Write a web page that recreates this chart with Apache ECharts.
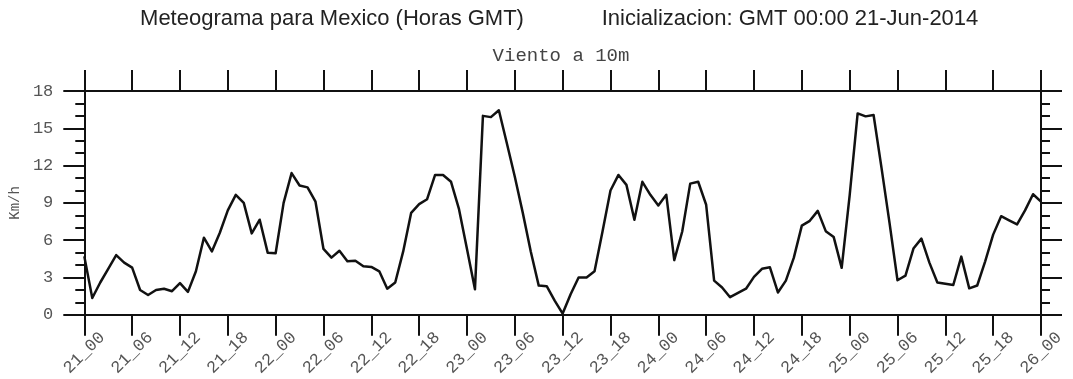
<!DOCTYPE html>
<html>
<head>
<meta charset="utf-8">
<script src="https://cdn.jsdelivr.net/npm/echarts@6/dist/echarts.min.js"></script>
<style>
  html, body { margin: 0; padding: 0; background: #fff; }
  #chart { width: 1073px; height: 379px; }
</style>
</head>
<body>
<div id="chart"></div>
<script>
// Hourly 10 m wind speed (km/h), 21_00 through 26_00
const windSpeed = [
  4.7, 1.35, 2.6, 3.7, 4.8, 4.2, 3.8, 2.0, 1.6, 2.0,
  2.1, 1.9, 2.55, 1.85, 3.5, 6.2, 5.1, 6.6, 8.4, 9.65,
  9.0, 6.55, 7.65, 5.0, 4.95, 9.0, 11.4, 10.4, 10.25, 9.1,
  5.3, 4.6, 5.15, 4.3, 4.35, 3.9, 3.85, 3.5, 2.1, 2.6,
  5.1, 8.2, 8.9, 9.3, 11.25, 11.25, 10.7, 8.5, 5.3, 2.05,
  16.0, 15.9, 16.45, 13.8, 11.1, 8.2, 5.1, 2.35, 2.3, 1.15,
  0.1, 1.65, 3.0, 3.0, 3.5, 6.7, 10.0, 11.25, 10.45, 7.65,
  10.7, 9.65, 8.8, 9.65, 4.4, 6.7, 10.55, 10.7, 8.85, 2.75,
  2.2, 1.42, 1.77, 2.1, 3.05, 3.7, 3.82, 1.8, 2.75, 4.6,
  7.17, 7.56, 8.36, 6.73, 6.25, 3.78, 9.6, 16.2, 15.96, 16.07,
  11.8, 7.4, 2.78, 3.15, 5.33, 6.13, 4.2, 2.6, 2.5, 2.4,
  4.68, 2.13, 2.36, 4.3, 6.45, 7.93, 7.6, 7.27, 8.4, 9.7,
  9.1
];

// Labels for every 6-hour tick (day_hour)
const tickLabels = [
  '21_00', '21_06', '21_12', '21_18',
  '22_00', '22_06', '22_12', '22_18',
  '23_00', '23_06', '23_12', '23_18',
  '24_00', '24_06', '24_12', '24_18',
  '25_00', '25_06', '25_12', '25_18',
  '26_00'
];

const yTicks = [0, 3, 6, 9, 12, 15, 18];

const titleLeft = 'Meteograma para Mexico (Horas GMT)';
const titleRight = 'Inicializacion: GMT 00:00 21-Jun-2014';
const subTitle = 'Viento a 10m';
const yName = 'Km/h';

const HOURS_PER_TICK = 6;
const lastHour = (tickLabels.length - 1) * HOURS_PER_TICK;

const monoFont = '"Liberation Mono", "DejaVu Sans Mono", monospace';
const sansFont = '"Liberation Sans", Arial, sans-serif';
const frame = { color: '#111', width: 2 };
const labelColor = '#555';

const chart = echarts.init(document.getElementById('chart'), null, { renderer: 'canvas' });

const xBase = {
  type: 'value',
  min: 0,
  max: lastHour,
  interval: HOURS_PER_TICK,
  splitLine: { show: false },
  axisLine: { show: true, onZero: false, lineStyle: frame },
  axisTick: { show: true, inside: false, length: 21, lineStyle: frame }
};

const yBase = {
  type: 'value',
  min: yTicks[0],
  max: yTicks[yTicks.length - 1],
  interval: yTicks[1] - yTicks[0],
  splitLine: { show: false },
  axisLine: { show: true, onZero: false, lineStyle: frame },
  axisTick: { show: true, inside: false, length: 21, lineStyle: frame },
  minorTick: { show: true, splitNumber: 3, length: 9, lineStyle: frame },
  minorSplitLine: { show: false }
};

chart.setOption({
  animation: false,
  backgroundColor: '#fff',
  grid: { left: 83, right: 32, top: 91, bottom: 63, containLabel: false },
  xAxis: [
    Object.assign({}, xBase, {
      position: 'bottom',
      axisLabel: {
        show: true,
        rotate: 45,
        margin: 38,
        align: 'center',
        verticalAlign: 'middle',
        color: labelColor,
        fontFamily: monoFont,
        fontSize: 17,
        formatter: v => tickLabels[Math.round(v / HOURS_PER_TICK)] || ''
      }
    }),
    Object.assign({}, xBase, {
      position: 'top',
      axisLabel: { show: false }
    })
  ],
  yAxis: [
    Object.assign({}, yBase, {
      position: 'left',
      name: yName,
      nameLocation: 'middle',
      nameRotate: 90,
      nameGap: 61,
      nameTextStyle: { color: labelColor, fontFamily: monoFont, fontSize: 14 },
      axisLabel: {
        show: true,
        margin: 31,
        color: labelColor,
        fontFamily: monoFont,
        fontSize: 17
      }
    }),
    Object.assign({}, yBase, {
      position: 'right',
      axisLabel: { show: false }
    })
  ],
  graphic: [
    {
      type: 'text', x: 332, y: 19,
      style: { text: titleLeft, fontFamily: sansFont, fontSize: 22, fill: '#222', align: 'center', verticalAlign: 'middle' }
    },
    {
      type: 'text', x: 790, y: 19,
      style: { text: titleRight, fontFamily: sansFont, fontSize: 22, fill: '#222', align: 'center', verticalAlign: 'middle' }
    },
    {
      type: 'text', x: 561, y: 56,
      style: { text: subTitle, fontFamily: monoFont, fontSize: 19, fill: '#444', align: 'center', verticalAlign: 'middle' }
    }
  ],
  series: [
    {
      type: 'line',
      xAxisIndex: 0,
      yAxisIndex: 0,
      data: windSpeed.map((v, h) => [h, v]),
      showSymbol: false,
      symbol: 'none',
      lineStyle: { color: '#111', width: 2.5, join: 'round' },
      clip: false
    }
  ]
});
</script>
</body>
</html>
